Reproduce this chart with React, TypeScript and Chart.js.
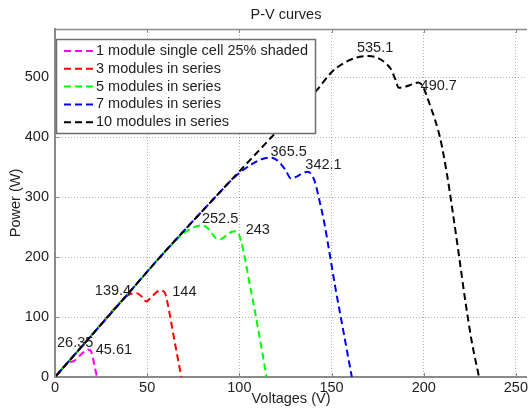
import React, { useEffect, useRef } from 'react';
import { Chart, registerables } from 'chart.js';

Chart.register(...registerables);

const chartTitle = 'P-V curves';
const xAxisTitle = 'Voltages (V)';
const yAxisTitle = 'Power (W)';

const seriesLabels = [
  '1 module single cell 25% shaded',
  '3 modules in series',
  '5 modules in series',
  '7 modules in series',
  '10 modules in series',
];
const seriesColors = ['#ff00ff', '#ff0000', '#00ff00', '#0000ff', '#000000'];

const magentaV = [0, 3, 5.5, 7.75, 9, 10.5, 12.5, 15, 17, 18.3, 19.3, 20.2, 21.2, 22.2, 22.8];
const magentaP = [0, 10.5, 19.3, 26.35, 25.5, 27, 33, 40, 44.5, 45.61, 44, 37, 22, 8, 0];

const redV = [0, 20, 37, 39.5, 42, 44.5, 47, 49.5, 52, 54.5, 57, 59.5, 61, 62.5, 64.5, 66.5, 68.5];
const redP = [0, 70, 129.5, 136, 139, 139.4, 134, 126, 132, 140, 144, 141, 124, 100, 66, 33, 0];

const greenV = [0, 20, 40, 57, 66, 70, 74, 77, 80, 82.5, 85, 87.5, 90, 93, 96, 98, 99.5, 101, 103, 105, 107.5, 110.5, 112.5, 114.7];
const greenP = [0, 70, 140, 200, 229, 240, 247.5, 251.5, 252.5, 249, 240, 231, 230, 236, 242, 243, 239, 226, 198, 165, 125, 75, 40, 0];

const blueV = [0, 20, 40, 57, 87, 97, 103, 108, 112, 116, 119, 122, 125, 128, 131, 134, 137, 139, 141, 143, 146, 149, 152, 155, 158, 161];
const blueP = [0, 70, 140, 200, 300, 332, 347, 357, 363, 365.5, 364, 357, 345, 331, 334, 339, 342.1, 338, 325, 300, 258, 205, 150, 100, 50, 0];

const blackV = [0, 20, 40, 57, 87, 117.5, 130, 142, 150, 156, 163, 170, 175, 179, 182, 184.5, 186.5, 190, 194, 197, 199, 201, 203.5, 206, 209, 212.5, 215.5, 219, 222.5, 226, 230];
const blackP = [0, 70, 140, 200, 300, 400, 441, 478, 508, 522, 532, 535.1, 532, 524, 514, 497, 482, 484, 488, 490.7, 487, 474, 452, 430, 397, 340, 280, 205, 128, 60, 0];

const seriesV = [magentaV, redV, greenV, blueV, blackV];
const seriesP = [magentaP, redP, greenP, blueP, blackP];

const xTickValues = [0, 50, 100, 150, 200, 250];
const yTickValues = [0, 100, 200, 300, 400, 500];
const xMin = 0;
const xMax = 256;
const yMin = 0;
const yMax = 580;

const peakTexts = ['26.35', '45.61', '139.4', '144', '252.5', '243', '365.5', '342.1', '535.1', '490.7'];
const peakTextV = [1.1, 22.1, 21.6, 63.6, 79.7, 103.4, 116.9, 135.8, 163.8, 198.3];
const peakTextP = [56.7, 45, 143.3, 141.7, 263.3, 245, 375, 353.3, 548.3, 485];

const FONT = "'Liberation Sans', Arial, Helvetica, sans-serif";
const FONT_SIZE = 14.5;
const TEXT_COLOR = '#1e1e1e';
const AXIS_COLOR = '#8a8a8a';

const overlayPlugin = {
  id: 'matlabOverlay',
  afterDraw(chart: any) {
    const { ctx, chartArea: a, scales } = chart;
    const x = scales.x;
    const y = scales.y;
    ctx.save();
    ctx.strokeStyle = AXIS_COLOR;
    ctx.lineWidth = 1.5;
    ctx.beginPath();
    ctx.moveTo(a.left, a.top + 0.5);
    ctx.lineTo(a.right, a.top + 0.5);
    ctx.stroke();
    ctx.lineWidth = 1;
    ctx.beginPath();
    xTickValues.forEach((v) => {
      const px = Math.round(x.getPixelForValue(v)) + 0.5;
      ctx.moveTo(px, a.bottom);
      ctx.lineTo(px, a.bottom - 4);
      ctx.moveTo(px, a.top);
      ctx.lineTo(px, a.top + 4);
    });
    yTickValues.forEach((v) => {
      const py = Math.round(y.getPixelForValue(v)) + 0.5;
      ctx.moveTo(a.left, py);
      ctx.lineTo(a.left + 4, py);
    });
    ctx.stroke();

    ctx.fillStyle = TEXT_COLOR;
    ctx.font = `${FONT_SIZE}px ${FONT}`;
    ctx.textAlign = 'center';
    ctx.textBaseline = 'middle';
    ctx.fillText(chartTitle, (a.left + a.right) / 2 - 5, 15);

    ctx.textAlign = 'left';
    peakTexts.forEach((t, i) => {
      ctx.fillText(t, x.getPixelForValue(peakTextV[i]), y.getPixelForValue(peakTextP[i]));
    });

    const lx = a.left + 1;
    const ly = a.top + 10;
    const lw = 259;
    const lh = 94;
    ctx.fillStyle = '#ffffff';
    ctx.fillRect(lx, ly, lw, lh);
    ctx.strokeStyle = '#6e6e6e';
    ctx.lineWidth = 1.5;
    ctx.strokeRect(lx + 0.5, ly + 0.5, lw, lh);
    seriesLabels.forEach((label, i) => {
      const rowY = ly + 12 + i * 17.8;
      ctx.strokeStyle = seriesColors[i];
      ctx.lineWidth = 2;
      ctx.setLineDash([7, 4]);
      ctx.beginPath();
      ctx.moveTo(lx + 8, rowY);
      ctx.lineTo(lx + 39, rowY);
      ctx.stroke();
      ctx.setLineDash([]);
      ctx.fillStyle = TEXT_COLOR;
      ctx.textBaseline = 'middle';
      ctx.fillText(label, lx + 40, rowY);
    });
    ctx.restore();
  },
};

export default function App() {
  const canvasRef = useRef<HTMLCanvasElement | null>(null);

  useEffect(() => {
    if (!canvasRef.current) return;
    const datasets = seriesLabels.map((label, i) => ({
      label,
      data: seriesV[i].map((v, j) => ({ x: v, y: seriesP[i][j] })),
      borderColor: seriesColors[i],
      backgroundColor: seriesColors[i],
      borderWidth: 2,
      borderDash: [7, 4],
      borderDashOffset: i * 2.5,
      pointRadius: 0,
      fill: false,
      cubicInterpolationMode: 'monotone' as const,
      order: seriesLabels.length - 1 - i,
    }));

    const chart = new Chart(canvasRef.current, {
      type: 'line',
      data: { datasets },
      options: {
        animation: false,
        responsive: false,
        devicePixelRatio: 1,
        layout: { padding: { top: 29, right: 0, left: 0, bottom: 0 } },
        plugins: {
          legend: { display: false },
          title: { display: false },
          tooltip: { enabled: false },
        },
        scales: {
          x: {
            type: 'linear',
            min: xMin,
            max: xMax,
            afterBuildTicks: (s: any) => {
              s.ticks = xTickValues.map((v) => ({ value: v }));
            },
            afterFit: (s: any) => {
              s.height = 35;
            },
            grid: { color: 'rgba(0,0,0,0.3)', lineWidth: 1, drawTicks: false },
            border: { display: true, color: AXIS_COLOR, width: 2, dash: [1, 2] },
            ticks: {
              padding: 2,
              color: TEXT_COLOR,
              font: { family: FONT, size: FONT_SIZE },
              maxRotation: 0,
              callback: (v: any) => String(v),
            },
            title: {
              display: true,
              text: xAxisTitle,
              color: TEXT_COLOR,
              font: { family: FONT, size: FONT_SIZE },
              padding: { top: 0, bottom: 4 },
            },
          },
          y: {
            type: 'linear',
            min: yMin,
            max: yMax,
            afterBuildTicks: (s: any) => {
              s.ticks = yTickValues.map((v) => ({ value: v }));
            },
            afterFit: (s: any) => {
              s.width = 55;
            },
            grid: { color: 'rgba(0,0,0,0.3)', lineWidth: 1, drawTicks: false },
            border: { display: true, color: AXIS_COLOR, width: 2, dash: [1, 2] },
            ticks: {
              padding: 6,
              color: TEXT_COLOR,
              font: { family: FONT, size: FONT_SIZE },
              callback: (v: any) => String(v),
            },
            title: {
              display: true,
              text: yAxisTitle,
              color: TEXT_COLOR,
              font: { family: FONT, size: FONT_SIZE },
              padding: { top: 7, bottom: 0 },
            },
          },
        },
      },
      plugins: [overlayPlugin],
    });
    return () => chart.destroy();
  }, []);

  return (
    <div style={{ position: 'absolute', left: 0, top: 0, width: 530, height: 412, background: '#ffffff' }}>
      <canvas ref={canvasRef} width={530} height={412} style={{ display: 'block', width: 530, height: 412 }} />
    </div>
  );
}
